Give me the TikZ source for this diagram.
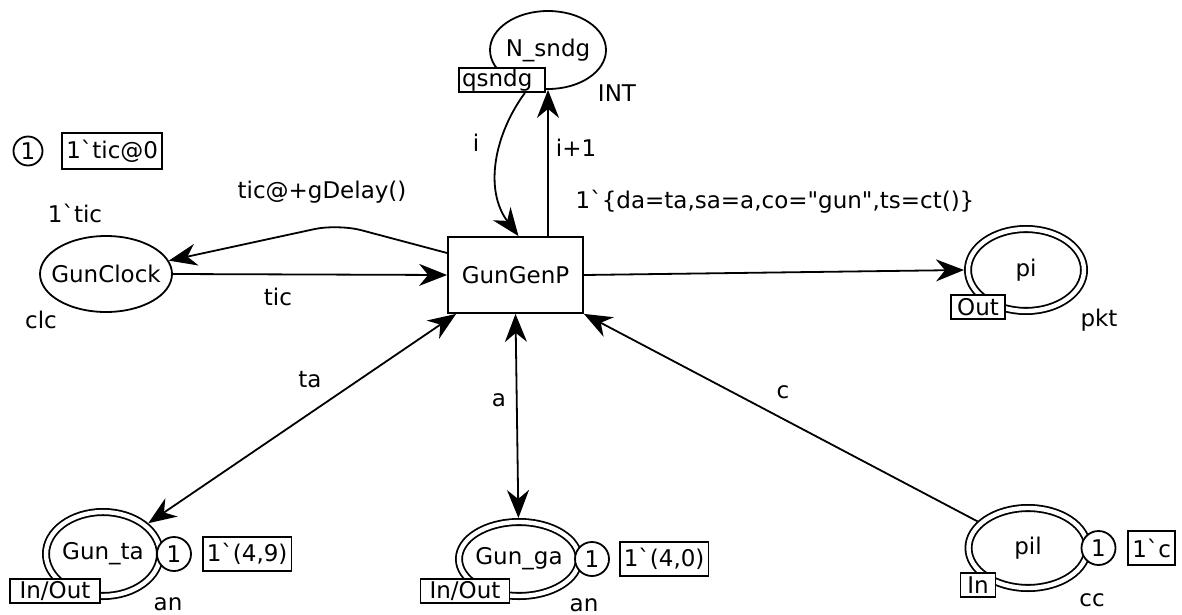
\documentclass[tikz,border=0pt]{standalone}
\usepackage{fontspec}
\setmainfont{DejaVu Sans}
\usetikzlibrary{shapes.geometric, arrows.meta, positioning}
\newcommand{\bq}{\textasciigrave}

\begin{document}
\begin{tikzpicture}[
    x=0.5pt, y=-0.5pt,
    every node/.style={font=\fontsize{11.5}{13}\selectfont},
    place/.style={ellipse, draw, line width=0.9pt, inner xsep=-5pt, inner ysep=0pt},
    port/.style={ellipse, draw, line width=0.9pt, double, double distance=2.2pt, inner xsep=-5pt, inner ysep=0pt, outer sep=2pt},
    trans/.style={rectangle, draw, line width=0.9pt, minimum width=67.5pt, minimum height=38pt},
    tag/.style={rectangle, draw, fill=white, line width=0.9pt, inner xsep=1.5pt, inner ysep=0pt, minimum height=12pt},
    marking/.style={rectangle, draw, line width=0.9pt, inner xsep=2pt, minimum height=17pt},
    token/.style={circle, draw, fill=white, line width=0.9pt, minimum size=17pt, inner sep=0pt},
    arc/.style={line width=0.9pt, -{Stealth[length=14pt, width=11pt, inset=4.5pt]}},
    biarc/.style={line width=0.9pt, {Stealth[length=14pt, width=11pt, inset=4.5pt]}-{Stealth[length=14pt, width=11pt, inset=4.5pt]}}
]
\useasboundingbox (0,0) rectangle (1182,615);

% Transition
\node[trans] (gun) at (515.5,275) {GunGenP};

% Places
\node[place, minimum width=58pt, minimum height=39pt] (nsndg) at (548,50) {N\_sndg};
\node[tag, text width=40pt, align=left] (qsndg) at (502,80) {qsndg};
\node (nsndgtype) at (617,93) {INT};

\node[place, minimum width=66pt, minimum height=38pt] (clock) at (106,274) {GunClock};
\node (clockinit) at (75,213) {1\bq tic};
\node (clocktype) at (41,320) {clc};

\node[port, minimum width=58pt, minimum height=41pt] (pi) at (1026,270) {pi};
\node[tag, minimum width=27pt] (pitag) at (978,307) {Out};
\node (pitype) at (1099,320) {pkt};

\node[port, minimum width=57pt, minimum height=42pt] (gta) at (103,554) {Gun\_ta};
\node[tag, minimum width=45pt] (gtatag) at (55,591) {In/Out};
\node[token] (gtatok) at ([xshift=5pt]gta.east) {1};
\node[marking, right=5pt of gtatok] (gtamark) {1\bq(4,9)};
\node (gtatype) at (168,604) {an};

\node[port, minimum width=60pt, minimum height=37pt] (gga) at (519,559) {Gun\_ga};
\node[tag, minimum width=44.5pt] (ggatag) at (465,591) {In/Out};
\node[token] (ggatok) at ([xshift=4.5pt]gga.east) {1};
\node[marking, right=4.5pt of ggatok] (ggamark) {1\bq(4,0)};
\node (ggatype) at (584,605) {an};

\node[port, minimum width=59.5pt, minimum height=40pt] (pil) at (1028,548) {pil};
\node[tag, minimum width=17.5pt] (piltag) at (978,585) {In};
\node[token] (piltok) at ([xshift=3.5pt]pil.east) {1};
\node[marking, right=5.5pt of piltok] (pilmark) {1\bq c};
\node (piltype) at (1092,600) {cc};

% Status
\node[token, minimum size=14.5pt] (clktok) at (28,151) {1};
\node[marking, right=9pt of clktok] (clkmark) {1\bq tic@0};

% Arcs
\coordinate (bend) at (338,224);
\draw[arc] ([xshift=-10.5pt]qsndg.south east) .. controls (494,135) and (484,190) .. ([xshift=1.5pt]gun.north);
\draw[arc] (gun.north -| nsndg.south) -- (nsndg.south);
\draw[arc] (clock.east) -- (gun.west);
\draw[arc, rounded corners=12pt] ([yshift=11pt]gun.west) -- (bend) -- (clock.12);
\draw[arc] (gun.east) -- (pi.west);
\draw[biarc] ([xshift=4.5pt]gun.south west) -- (gta);
\draw[biarc] (gun.south) -- (gga);
\draw[arc] (pil) -- (gun.south east);

% Inscriptions
\node (li) at (476,143) {i};
\node (linc) at (576,148) {i+1};
\node (ldelay) at (322,192) {tic@+gDelay()};
\node (ltic) at (278,297) {tic};
\node (lpkt) at (775,202) {1\bq\{da=ta,sa=a,co=\textquotedbl gun\textquotedbl,ts=ct()\}};
\node (lta) at (310,380) {ta};
\node (la) at (499,400) {a};
\node (lc) at (783,392) {c};

\end{tikzpicture}
\end{document}
